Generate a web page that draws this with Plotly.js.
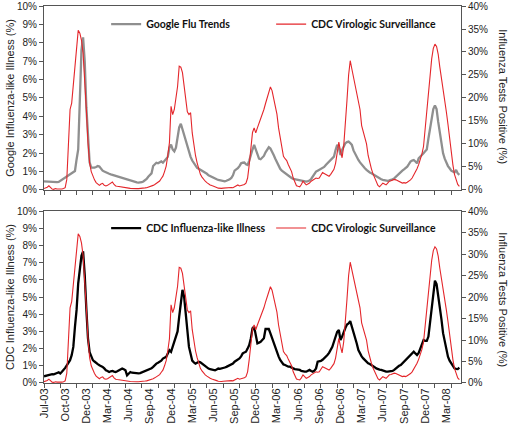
<!DOCTYPE html>
<html><head><meta charset="utf-8">
<script src="https://cdn.plot.ly/plotly-3.0.1.min.js"></script>
<style>html,body{margin:0;padding:0;background:#fff}#chart{width:510px;height:431px}</style>
</head><body><div id="chart"></div>
<script>
// Weekly values, week 0 = first week of Jul-03
const googleFlu = [
0.47,0.46,0.45,0.45,0.44,0.44,0.43,0.43,0.43,0.44,
0.5,0.56,0.6,0.65,0.7,0.78,0.85,0.92,0.98,1.03,
1.66,2.2,4.9,7.6,8.3,7.0,4.5,2.6,1.5,1.22,
1.2,1.22,1.25,1.3,1.28,1.15,1.05,1.0,0.95,0.92,
0.88,0.85,0.82,0.8,0.78,0.75,0.72,0.7,0.68,0.65,
0.6,0.58,0.55,0.52,0.48,0.45,0.43,0.41,0.4,0.4,
0.42,0.46,0.52,0.6,0.72,0.8,0.9,1.3,1.4,1.48,
1.45,1.5,1.55,1.48,1.6,1.66,1.8,2.3,2.47,2.2,
2.1,2.3,2.9,3.4,3.6,3.3,2.9,2.6,2.35,2.1,
1.8,1.6,1.45,1.3,1.2,1.15,1.1,1.05,1.0,0.95,
0.88,0.8,0.75,0.7,0.66,0.62,0.58,0.55,0.52,0.5,
0.48,0.47,0.5,0.53,0.58,0.65,0.8,1.05,1.1,1.18,
1.3,1.45,1.48,1.49,1.4,1.36,1.6,1.95,2.2,2.45,
2.2,1.99,1.7,1.67,1.75,1.85,2.05,2.2,2.32,2.25,
2.1,1.9,1.7,1.5,1.35,1.15,1.05,0.98,0.92,0.85,
0.75,0.7,0.65,0.6,0.58,0.55,0.52,0.5,0.48,0.46,
0.45,0.46,0.48,0.51,0.6,0.72,0.85,1.0,1.05,1.1,
1.12,1.18,1.25,1.36,1.45,1.55,1.62,1.7,1.81,2.17,
2.45,2.3,1.9,2.17,2.4,2.54,2.6,2.63,2.55,2.45,
2.15,1.95,1.8,1.63,1.5,1.38,1.28,1.18,1.09,1.0,
0.95,0.91,0.85,0.8,0.72,0.68,0.64,0.58,0.55,0.53,
0.51,0.5,0.52,0.54,0.58,0.63,0.72,0.82,0.9,1.0,
1.05,1.12,1.18,1.27,1.4,1.54,1.6,1.63,1.55,1.45,
1.72,1.8,1.9,2.0,2.1,2.2,2.8,3.4,3.9,4.4,
4.6,4.4,3.7,3.08,2.5,1.99,1.7,1.45,1.3,1.18,
1.05,1.0,0.95,1.09,0.9,0.82];

const cdcILI = [
0.39,0.42,0.45,0.48,0.5,0.51,0.5,0.52,0.58,0.62,
0.55,0.65,0.74,0.88,1.03,1.15,1.33,1.62,2.1,3.27,
4.25,5.8,6.78,7.4,7.66,6.3,4.3,2.6,1.8,1.55,
1.33,1.25,1.15,1.1,1.03,1.0,0.94,0.85,0.74,0.7,
0.64,0.68,0.7,0.66,0.64,0.68,0.74,0.8,0.84,0.8,
0.74,0.45,0.55,0.64,0.6,0.58,0.6,0.58,0.56,0.58,
0.62,0.64,0.66,0.7,0.74,0.78,0.85,0.94,1.05,1.13,
1.18,1.23,1.3,1.42,1.48,1.52,1.72,1.91,1.81,2.1,
2.5,2.69,3.0,3.86,4.83,5.42,5.03,4.05,2.9,2.1,
1.7,1.3,1.2,1.13,1.18,1.23,1.2,1.13,1.05,0.94,
0.9,0.84,0.8,0.78,0.76,0.74,0.78,0.84,0.82,0.84,
0.84,0.9,0.94,0.98,1.03,1.08,1.13,1.24,1.3,1.38,
1.43,1.55,1.72,1.78,1.82,2.0,2.21,2.6,3.18,3.28,
2.79,2.31,2.35,2.4,2.5,2.6,3.14,3.16,3.14,2.89,
2.6,2.31,2.05,1.82,1.55,1.34,1.2,1.08,1.05,1.0,
0.95,0.95,0.88,0.85,0.81,0.8,0.78,0.76,0.7,0.66,
0.66,0.66,0.7,0.76,0.7,0.66,0.72,0.85,1.24,1.26,
1.28,1.35,1.43,1.52,1.63,1.75,1.92,2.1,2.4,2.7,
2.98,3.08,2.5,2.7,2.98,3.2,3.4,3.47,3.6,3.3,
3.0,2.6,2.3,1.92,1.7,1.55,1.43,1.33,1.24,1.15,
1.1,1.05,0.98,0.92,0.85,0.8,0.78,0.76,0.72,0.7,
0.66,0.66,0.66,0.66,0.7,0.76,0.85,0.95,1.0,1.05,
1.15,1.24,1.35,1.43,1.52,1.63,1.72,1.82,1.72,1.63,
1.75,2.0,2.2,2.5,2.45,2.45,2.7,3.5,4.34,5.4,
5.95,5.75,5.1,4.53,3.7,2.9,2.4,1.9,1.53,1.3,
1.14,1.0,0.85,0.82,0.81,0.89];

const virologic = [
0.3,0.4,0.6,0.9,0.5,0.2,0.14,0.3,0.2,0.15,
0.14,0.2,0.3,0.5,2.3,8.8,17.5,18.9,23.2,27.6,
31.9,34.7,34.1,32.6,29.7,24.7,17.5,10.3,5.9,4.0,
3.0,2.2,1.6,1.2,1.0,1.3,1.44,1.0,0.87,1.0,
1.2,1.5,1.73,1.2,0.87,0.8,0.72,0.7,0.6,0.55,
0.5,0.45,0.4,0.35,0.3,0.3,0.35,0.3,0.3,0.3,
0.35,0.4,0.45,0.5,0.6,0.75,0.87,1.0,1.2,1.5,
1.8,1.95,2.5,3.0,4.0,5.2,7.5,10.3,18.2,16.4,
17.5,20.4,22.5,26.9,26.7,25.5,22.8,19.5,17.0,16.4,
16.8,12.4,9.5,7.5,5.9,4.5,3.4,2.8,2.3,1.9,
1.6,1.3,1.1,0.95,0.87,0.7,0.55,0.4,0.3,0.35,
0.4,0.45,0.5,0.45,0.5,0.55,0.5,0.7,0.9,1.1,
0.87,0.93,1.0,1.2,1.5,2.6,5.5,9.5,12.5,13.5,
12.4,13.5,14.5,15.3,16.5,17.5,18.8,20.0,21.3,22.4,
21.6,19.8,18.5,16.5,13.5,11.2,9.0,7.3,6.8,6.4,
5.5,4.8,4.0,2.6,1.6,0.93,0.8,0.7,1.2,1.9,
1.5,1.1,1.3,1.5,1.9,2.2,2.4,2.6,2.5,2.6,
3.2,3.8,3.6,3.4,3.2,3.0,3.4,4.0,4.5,5.8,
8.5,10.4,8.5,7.0,9.6,14.0,19.5,25.0,28.1,26.3,
24.5,23.0,21.0,19.5,17.5,14.0,12.5,11.5,10.0,7.5,
5.7,4.6,3.5,2.6,1.6,1.0,0.7,1.0,1.5,1.3,
1.1,1.5,1.9,2.0,2.2,2.3,2.2,2.0,1.9,1.7,
1.5,1.6,1.5,1.7,1.9,2.2,2.6,3.2,3.8,4.6,
5.5,6.5,7.8,9.5,13.5,17.5,21.5,25.0,28.5,30.8,
31.7,31.2,29.5,26.7,24.5,22.0,19.7,17.0,14.3,11.0,
8.1,5.5,3.4,2.2,1.2,0.8];

const tickWeeks = [0,13,26,39,52,65,78,91,104,117,130,143,156,169,182,195,208,221,234,247];
const tickLabels = ["Jul-03","Oct-03","Dec-03","Mar-04","Jun-04","Sep-04","Dec-04","Mar-05","Jun-05","Sep-05",
  "Dec-05","Mar-06","Jun-06","Sep-06","Dec-06","Mar-07","Jun-07","Sep-07","Dec-07","Mar-08"];

const FONT = 'Liberation Sans, Arial, sans-serif';
const LEGFONT = {family:'Lato, Open Sans, sans-serif', size:10.5, color:'#111', weight:'bold'};
const AX = '#555';
const RED = '#e4262b';

const traces = [
  {y: googleFlu, xaxis:'x', yaxis:'y', type:'scatter', mode:'lines', name:'Google Flu Trends',
   line:{color:'#8f8f8f', width:2.3}, legend:'legend'},
  {y: virologic, xaxis:'x', yaxis:'y2', type:'scatter', mode:'lines', name:'CDC Virologic Surveillance',
   line:{color:RED, width:1.1}, legend:'legend'},
  {y: virologic, xaxis:'x2', yaxis:'y4', type:'scatter', mode:'lines', name:'CDC Virologic Surveillance',
   line:{color:RED, width:1.1}, legend:'legend2'},
  {y: cdcILI, xaxis:'x2', yaxis:'y3', type:'scatter', mode:'lines', name:'CDC Influenza-like Illness',
   line:{color:'#000', width:2.3}, legend:'legend2'}
];

const xBase = {range:[0,256], showline:true, linecolor:AX, linewidth:1, mirror:true, showgrid:false, zeroline:false,
  fixedrange:true};
const yLeft = {range:[0,10], dtick:1, tick0:0, ticksuffix:'%', ticks:'outside', ticklen:4, tickcolor:AX,
  showline:true, linecolor:AX, showgrid:false, zeroline:false, tickfont:{family:FONT, size:10, color:'#222'}};
const yRight = {range:[0,40], dtick:5, tick0:0, ticksuffix:'%', ticks:'outside', ticklen:4, tickcolor:AX,
  showline:true, linecolor:AX, showgrid:false, zeroline:false, side:'right', tickfont:{family:FONT, size:10, color:'#222'}};

const layout = {
  width:510, height:431, margin:{l:44, r:49, t:6, b:48}, paper_bgcolor:'#fff', plot_bgcolor:'#fff',
  font:{family:FONT, color:'#222'},
  xaxis: Object.assign({}, xBase, {anchor:'y', domain:[0,1], tickmode:'linear', tick0:0, dtick:10,
    ticks:'outside', ticklen:4, tickcolor:AX, showticklabels:false}),
  xaxis2: Object.assign({}, xBase, {anchor:'y3', domain:[0,1], tickmode:'array', tickvals:tickWeeks, ticktext:tickLabels,
    ticks:'', tickangle:-90, tickfont:{family:FONT, size:11, color:'#222'},
    minor:{tickmode:'linear', tick0:0, dtick:10, ticks:'outside', ticklen:4, tickcolor:AX, showgrid:false}}),
  yaxis: Object.assign({}, yLeft, {anchor:'x', domain:[0.512,1],
    title:{text:'Google Influenza-like Illness (%)', font:{family:FONT, size:11, color:'#222'}, standoff:0}}),
  yaxis2: Object.assign({}, yRight, {anchor:'x', overlaying:'y'}),
  yaxis3: Object.assign({}, yLeft, {anchor:'x2', domain:[0,0.456],
    title:{text:'CDC Influenza-like Illness (%)', font:{family:FONT, size:11, color:'#222'}, standoff:0}}),
  yaxis4: Object.assign({}, yRight, {anchor:'x2', overlaying:'y3'}),
  legend:{orientation:'h', x:0.149, xanchor:'left', y:0.952, yanchor:'middle', font:LEGFONT,
    entrywidth:120, bgcolor:'rgba(0,0,0,0)', borderwidth:0, itemclick:false},
  legend2:{orientation:'h', x:0.149, xanchor:'left', y:0.411, yanchor:'middle', font:LEGFONT,
    entrywidth:120, bgcolor:'rgba(0,0,0,0)', borderwidth:0, traceorder:'reversed', itemclick:false},
  annotations:[
    {text:'Influenza Tests Positive (%)', xref:'paper', yref:'paper', x:1.1, y:0.759, textangle:90,
     showarrow:false, xanchor:'center', yanchor:'middle', font:{family:FONT, size:11, color:'#222'}},
    {text:'Influenza Tests Positive (%)', xref:'paper', yref:'paper', x:1.1, y:0.22, textangle:90,
     showarrow:false, xanchor:'center', yanchor:'middle', font:{family:FONT, size:11, color:'#222'}}
  ],
  showlegend:true
};

Plotly.newPlot('chart', traces, layout, {displayModeBar:false, staticPlot:true});
</script>
</body></html>
